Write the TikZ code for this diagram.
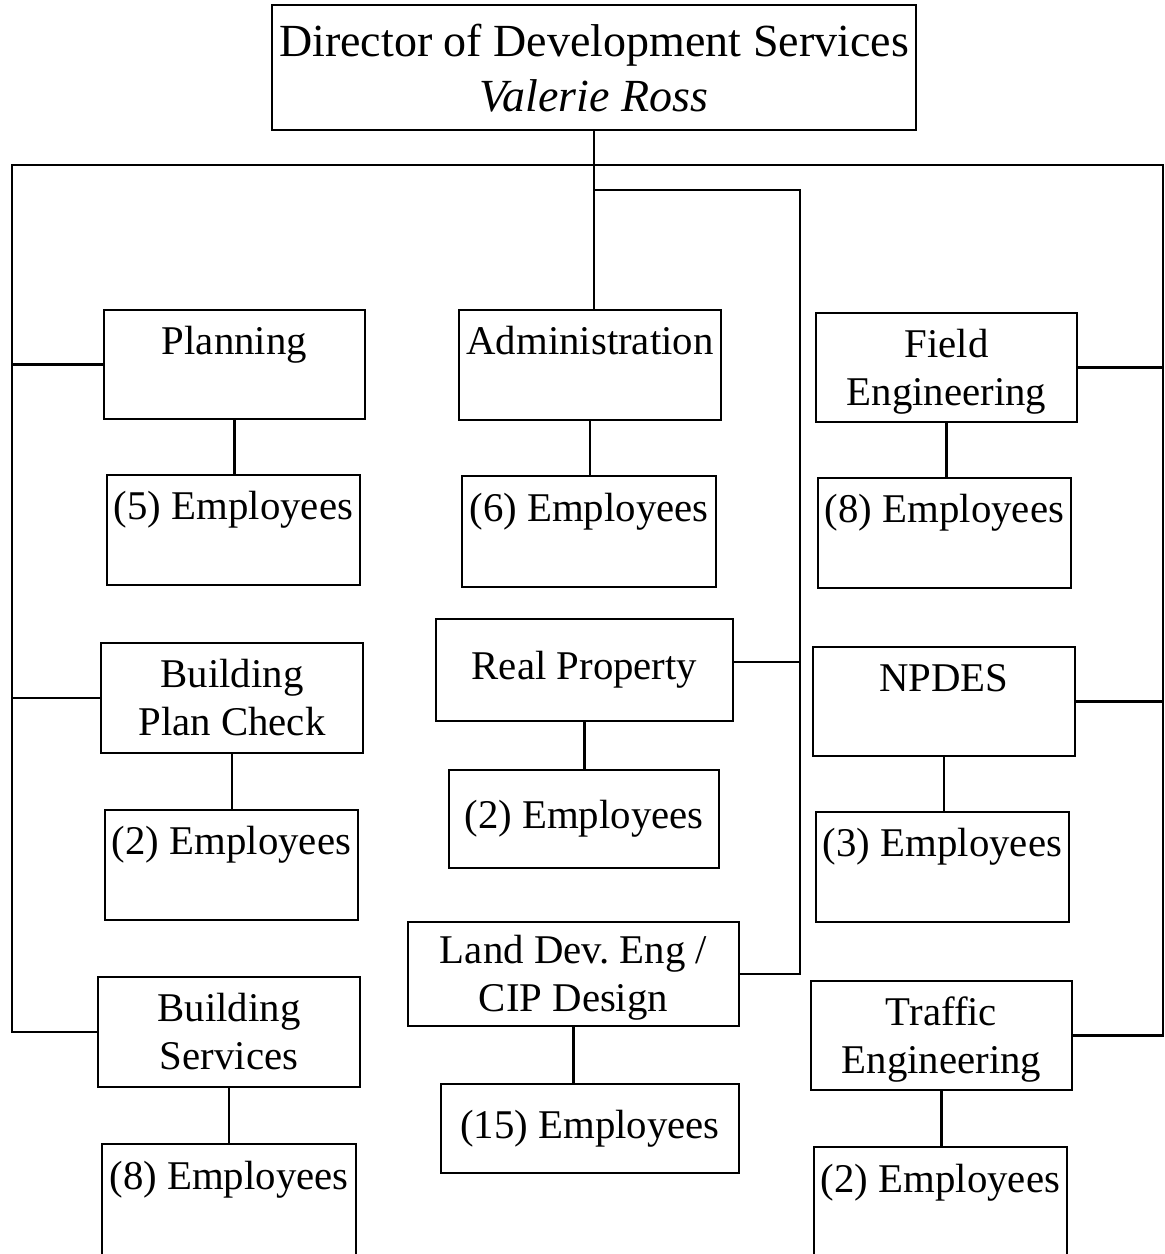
\documentclass[tikz,border=0pt]{standalone}
\usepackage{fontspec}
\setmainfont{Liberation Serif}
\newcommand{\orgsize}{\fontsize{20.4pt}{24pt}\selectfont}
\newcommand{\headsize}{\fontsize{23pt}{27.5pt}\selectfont}
% first line strut, a little taller than \strut
\newcommand{\capstrut}{\rule{0pt}{20.8pt}}

\begin{document}
\begin{tikzpicture}[x=0.5pt,y=-0.5pt,line width=1.4pt,
  unit/.style={draw,line width=1.4pt,inner sep=0pt,align=center,font=\orgsize},
  boxsize/.style 2 args={minimum width=#1*0.5pt,minimum height=#2*0.5pt}]
  \clip (0,0) rectangle (1164,1254);
  % director
  \node[unit,font=\headsize,boxsize={644}{125}] (dir) at (594,67.5)
    {\rule{0pt}{24.3pt}Director of Development Services\\\strut\textit{Valerie Ross}};
  % left column
  \node[unit,boxsize={261}{109}] (plan) at (234.5,364.5) {\capstrut Planning\\\strut};
  \node[unit,boxsize={253}{110}] (emp5) at (233.5,530) {\capstrut(5) Employees\\\strut};
  \node[unit,boxsize={262}{110}] (check) at (232,698) {\capstrut Building\\\strut Plan Check};
  \node[unit,boxsize={253}{110}] (emp2a) at (231.5,865) {\capstrut(2) Employees\\\strut};
  \node[unit,boxsize={262}{110}] (bldg) at (229,1032) {\capstrut Building\\\strut Services};
  \node[unit,boxsize={254}{112}] (emp8a) at (229,1200) {\capstrut(8) Employees\\\strut};
  % middle column
  \node[unit,boxsize={262}{110}] (admin) at (590,365) {\capstrut Administration\\\strut};
  \node[unit,boxsize={254}{111}] (emp6) at (589,531.5) {\capstrut(6) Employees\\\strut};
  \node[unit,boxsize={297}{102}] (realp) at (584.5,670) {\strut Real Property};
  \node[unit,boxsize={270}{98}] (emp2b) at (584,819) {\strut(2) Employees};
  \node[unit,boxsize={331}{104}] (land) at (573.5,974) {\capstrut Land Dev.\ Eng /\\\strut CIP Design};
  \node[unit,boxsize={298}{89}] (emp15) at (590,1128.5) {\strut(15) Employees};
  % right column
  \node[unit,boxsize={261}{109}] (field) at (946.5,367.5) {\capstrut Field\\\strut Engineering};
  \node[unit,boxsize={253}{110}] (emp8b) at (944.5,533) {\capstrut(8) Employees\\\strut};
  \node[unit,boxsize={262}{109}] (npdes) at (944,701.5) {\capstrut NPDES\\\strut};
  \node[unit,boxsize={253}{110}] (emp3) at (942.5,867) {\capstrut(3) Employees\\\strut};
  \node[unit,boxsize={261}{109}] (traffic) at (941.5,1035.5) {\capstrut Traffic\\\strut Engineering};
  \node[unit,boxsize={253}{112}] (emp2c) at (940.5,1203) {\capstrut(2) Employees\\\strut};
  % staff counts
  \foreach \a/\b in {plan/emp5,check/emp2a,bldg/emp8a,admin/emp6,realp/emp2b,
                     land/emp15,field/emp8b,npdes/emp3,traffic/emp2c}
    \draw (\a.south) -- (\a.south |- \b.north);
  % outer bus
  \coordinate (lt) at (12,165);
  \coordinate (rt) at (1163,165);
  \draw (bldg.west) -| (lt) -- (rt) |- (traffic.east);
  \foreach \n in {plan,check}
    \draw (\n.west) -- (\n.west -| lt);
  \foreach \n in {field,npdes}
    \draw (\n.east) -- (\n.east -| rt);
  % inner bus
  \coordinate (mc) at (800,190);
  \draw (dir.south) -- (dir.south |- admin.north);
  \draw (dir.south |- mc) -- (mc) |- (land.east);
  \draw ([yshift=4pt]realp.east) -- ([yshift=4pt]realp.east -| mc);
\end{tikzpicture}
\end{document}
